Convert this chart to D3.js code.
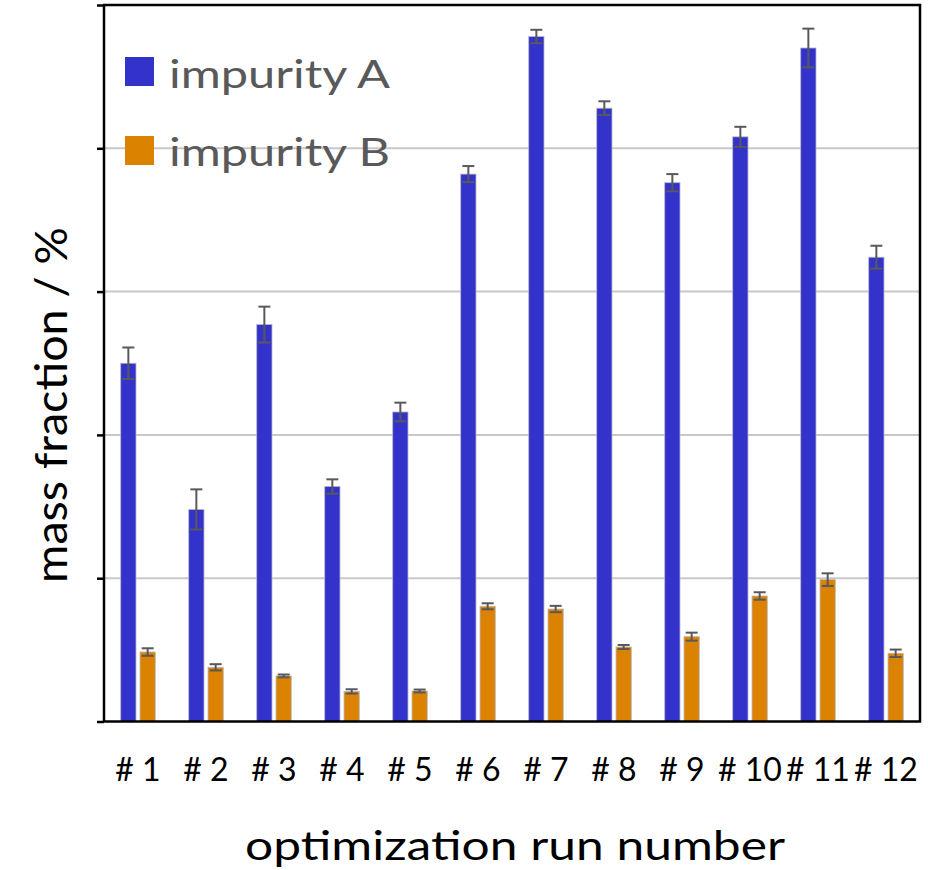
<!DOCTYPE html>
<html>
<head>
<meta charset="utf-8">
<script src="https://cdn.jsdelivr.net/npm/d3@7"></script>
<style>
  body { margin: 0; background: #fff; }
  text { font-family: Lato, "Open Sans", sans-serif; }
</style>
</head>
<body>
<script>
// data (gridline = 1 unit, no y labels in the original)
var runs = ["# 1", "# 2", "# 3", "# 4", "# 5", "# 6", "# 7", "# 8", "# 9", "# 10", "# 11", "# 12"];
var impA = [2.50, 1.48, 2.77, 1.64, 2.16, 3.82, 4.78, 4.28, 3.76, 4.08, 4.70, 3.24];
var errA = [0.11, 0.14, 0.125, 0.05, 0.065, 0.056, 0.047, 0.048, 0.06, 0.07, 0.135, 0.08];
var impB = [0.485, 0.378, 0.318, 0.21, 0.213, 0.804, 0.785, 0.52, 0.592, 0.876, 0.99, 0.476];
var errB = [0.026, 0.022, 0.01, 0.015, 0.01, 0.021, 0.022, 0.014, 0.028, 0.026, 0.044, 0.026];
var seriesNames = ["impurity A", "impurity B"];
var colors = ["#3333cc", "#db8200"];
var yTicks = [0, 1, 2, 3, 4, 5];

var width = 928, height = 870;
var mLeft = 104, mRight = 920, mTop = 5, mBottom = 721.5;

var svg = d3.select("body").append("svg")
	.attr("width", width).attr("height", height);

var x = d3.scaleBand().domain(runs).range([mLeft, mRight]).padding(0);
var xs = d3.scaleBand().domain([0, 1]).range([-17.3, 17.3]).paddingInner(0.207);
var y = d3.scaleLinear().domain([0, 5]).range([mBottom, mTop]);

// gridlines
svg.append("g").selectAll("line").data(yTicks.slice(1, 5)).join("line")
	.attr("x1", mLeft).attr("x2", mRight)
	.attr("y1", function (d) { return y(d); }).attr("y2", function (d) { return y(d); })
	.attr("stroke", "#c8c8c8").attr("stroke-width", 2);

// bars + error bars
var series = [
	{ vals: impA, errs: errA },
	{ vals: impB, errs: errB }
];
series.forEach(function (s, si) {
	var g = svg.append("g");
	var rows = runs.map(function (r, i) { return { run: r, v: s.vals[i], e: s.errs[i] }; });
	g.selectAll("rect").data(rows).join("rect")
		.attr("x", function (d) { return x(d.run) + x.bandwidth() / 2 + xs(si); })
		.attr("width", xs.bandwidth())
		.attr("y", function (d) { return y(d.v); })
		.attr("height", function (d) { return y(0) - y(d.v); })
		.attr("fill", colors[si])
		.attr("stroke", "#b8b8c8").attr("stroke-width", 0.8);

	var eb = g.selectAll("g.err").data(rows).join("g").attr("class", "err")
		.attr("transform", function (d) {
			return "translate(" + (x(d.run) + x.bandwidth() / 2 + xs(si) + xs.bandwidth() / 2) + ",0)";
		});
	eb.append("line").attr("x1", 0).attr("x2", 0)
		.attr("y1", function (d) { return y(d.v + d.e); }).attr("y2", function (d) { return y(d.v - d.e); })
		.attr("stroke", "#595959").attr("stroke-width", 2);
	eb.append("line").attr("x1", -6).attr("x2", 6)
		.attr("y1", function (d) { return y(d.v + d.e); }).attr("y2", function (d) { return y(d.v + d.e); })
		.attr("stroke", "#595959").attr("stroke-width", 2);
	eb.append("line").attr("x1", -6).attr("x2", 6)
		.attr("y1", function (d) { return y(d.v - d.e); }).attr("y2", function (d) { return y(d.v - d.e); })
		.attr("stroke", "#595959").attr("stroke-width", 2);
});

// frame
svg.append("rect").attr("x", mLeft).attr("y", mTop)
	.attr("width", mRight - mLeft).attr("height", mBottom - mTop)
	.attr("fill", "none").attr("stroke", "#000").attr("stroke-width", 2.5);

// y axis ticks only (no labels)
var yAxis = d3.axisLeft(y).tickValues(yTicks).tickSize(7).tickFormat("");
svg.append("g").attr("transform", "translate(" + mLeft + ",0)").call(yAxis)
	.call(function (g) { g.select(".domain").remove(); })
	.selectAll("line").attr("stroke", "#000").attr("stroke-width", 2.5);

// x labels
var xAxis = d3.axisBottom(x).tickSize(0).tickPadding(0);
svg.append("g").attr("transform", "translate(0," + mBottom + ")").call(xAxis)
	.call(function (g) { g.select(".domain").remove(); })
	.selectAll("text")
	.attr("dy", 0).attr("y", 59)
	.style("font-family", "Lato, sans-serif")
	.style("font-size", "32px").attr("fill", "#000");

// axis titles
svg.append("text").attr("x", (mLeft + mRight) / 2 + 3).attr("y", 860)
	.attr("text-anchor", "middle").style("font-size", "41px")
	.attr("textLength", 540).attr("lengthAdjust", "spacingAndGlyphs")
	.text("optimization run number");
svg.append("text").attr("transform", "translate(67,405) rotate(-90)")
	.attr("text-anchor", "middle").style("font-size", "45px")
	.attr("textLength", 356).attr("lengthAdjust", "spacingAndGlyphs")
	.text("mass fraction / %");

// legend
var legend = svg.append("g");
seriesNames.forEach(function (n, i) {
	legend.append("rect").attr("x", 125).attr("y", 57 + i * 79)
		.attr("width", 29).attr("height", 29).attr("fill", colors[i]);
	legend.append("text").attr("x", 169).attr("y", 88 + i * 78)
		.style("font-size", "39px").attr("fill", "#595959")
		.attr("textLength", 221).attr("lengthAdjust", "spacingAndGlyphs")
		.text(n);
});
</script>
</body>
</html>
